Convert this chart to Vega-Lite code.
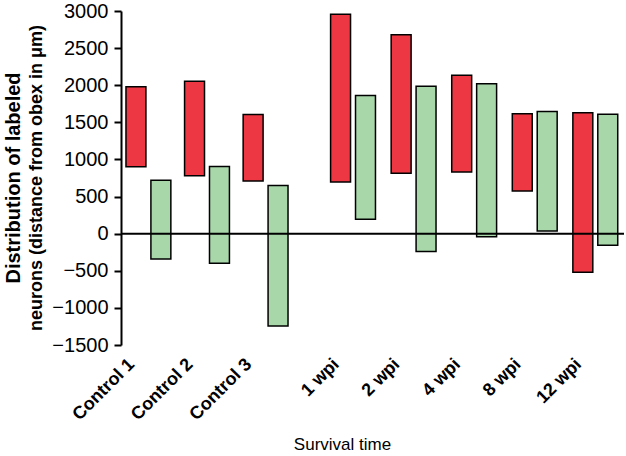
{
  "$schema": "https://vega.github.io/schema/vega-lite/v6.json",
  "background": "white",
  "padding": {"left": 3, "top": 1, "right": 0, "bottom": 0},
  "bounds": "flush",
  "spacing": 0,
  "config": {
    "view": {"stroke": null},
    "font": "Liberation Sans",
    "concat": {"spacing": 0}
  },
  "data": {
    "values": [
      {"group": "Control 1", "set": "Control", "series": "A", "low": 900, "high": 1980},
      {"group": "Control 1", "set": "Control", "series": "B", "low": -340, "high": 720},
      {"group": "Control 2", "set": "Control", "series": "A", "low": 780, "high": 2055},
      {"group": "Control 2", "set": "Control", "series": "B", "low": -400, "high": 905},
      {"group": "Control 3", "set": "Control", "series": "A", "low": 710, "high": 1605},
      {"group": "Control 3", "set": "Control", "series": "B", "low": -1245, "high": 650},
      {"group": "1 wpi", "set": "Injury", "series": "A", "low": 695, "high": 2955},
      {"group": "1 wpi", "set": "Injury", "series": "B", "low": 195, "high": 1860},
      {"group": "2 wpi", "set": "Injury", "series": "A", "low": 815, "high": 2680},
      {"group": "2 wpi", "set": "Injury", "series": "B", "low": -240, "high": 1985},
      {"group": "4 wpi", "set": "Injury", "series": "A", "low": 830, "high": 2135},
      {"group": "4 wpi", "set": "Injury", "series": "B", "low": -40, "high": 2020},
      {"group": "8 wpi", "set": "Injury", "series": "A", "low": 575, "high": 1615},
      {"group": "8 wpi", "set": "Injury", "series": "B", "low": 35, "high": 1645},
      {"group": "12 wpi", "set": "Injury", "series": "A", "low": -520, "high": 1630},
      {"group": "12 wpi", "set": "Injury", "series": "B", "low": -155, "high": 1610}
    ]
  },
  "hconcat": [
    {
      "width": 172,
      "height": 334,
      "title": {
        "text": "Distribution of labeled",
        "subtitle": "neurons (distance from obex in μm)",
        "orient": "left",
        "anchor": "middle",
        "fontSize": 20,
        "fontWeight": "bold",
        "color": "black",
        "subtitleFontSize": 18,
        "subtitleFontWeight": "bold",
        "subtitleColor": "black",
        "subtitlePadding": 4,
        "offset": 6
      },
      "layer": [
        {
          "transform": [{"filter": "datum.set === 'Control'"}],
          "mark": {"type": "bar", "stroke": "black", "strokeWidth": 1.5},
          "encoding": {
            "x": {
              "field": "group", "type": "nominal", "sort": null,
              "scale": {"paddingInner": 0.234, "paddingOuter": 0.085},
              "axis": {"title": null, "domain": false, "ticks": false, "labelAngle": -45, "labelAlign": "right", "labelBaseline": "top", "labelFontSize": 18, "labelFontWeight": "bold", "labelColor": "black", "labelPadding": 10, "labelOffset": -23}
            },
            "xOffset": {"field": "series", "type": "nominal", "scale": {"paddingInner": 0.2, "paddingOuter": 0}},
            "y": {
              "field": "low", "type": "quantitative",
              "scale": {"domain": [-1500, 3000], "nice": false, "zero": false},
              "axis": {"title": null, "values": [-1500, -1000, -500, 0, 500, 1000, 1500, 2000, 2500, 3000], "tickCount": 10, "format": "d", "labelOverlap": false, "labelBound": false, "grid": false, "labelFontSize": 20, "labelColor": "black", "domainColor": "black", "domainWidth": 2, "tickColor": "black", "tickWidth": 2, "tickSize": 7, "labelPadding": 6}
            },
            "y2": {"field": "high"},
            "fill": {"field": "series", "type": "nominal", "scale": {"domain": ["A", "B"], "range": ["#ED3843", "#A8D8AA"]}, "legend": null}
          }
        },
        {
          "data": {"values": [{}]},
          "mark": {"type": "rule", "color": "black", "strokeWidth": 2},
          "encoding": {"y": {"datum": 0, "type": "quantitative", "axis": {"title": null, "values": [-1500, -1000, -500, 0, 500, 1000, 1500, 2000, 2500, 3000], "tickCount": 10, "format": "d", "labelOverlap": false, "labelBound": false, "grid": false, "labelFontSize": 20, "labelColor": "black", "domainColor": "black", "domainWidth": 2, "tickColor": "black", "tickWidth": 2, "tickSize": 7, "labelPadding": 6}}}
        }
      ]
    },
    {
      "width": 331,
      "height": 334,
      "layer": [
        {
          "transform": [{"filter": "datum.set === 'Injury'"}],
          "mark": {"type": "bar", "stroke": "black", "strokeWidth": 1.5},
          "encoding": {
            "x": {
              "field": "group", "type": "nominal", "sort": null,
              "scale": {"paddingInner": 0.255, "paddingOuter": 0.36, "align": 0.862},
              "axis": {"title": "Survival time", "titleFontSize": 17, "titleFontWeight": "normal", "titleColor": "black", "titleX": 49, "titleY": 99, "titleAlign": "center", "titleBaseline": "middle", "domain": false, "ticks": false, "labelAngle": -45, "labelAlign": "right", "labelBaseline": "top", "labelFontSize": 18, "labelFontWeight": "bold", "labelColor": "black", "labelPadding": 10, "labelOffset": -23}
            },
            "xOffset": {"field": "series", "type": "nominal", "scale": {"paddingInner": 0.2, "paddingOuter": 0}},
            "y": {
              "field": "low", "type": "quantitative",
              "scale": {"domain": [-1500, 3000], "nice": false, "zero": false},
              "axis": null
            },
            "y2": {"field": "high"},
            "fill": {"field": "series", "type": "nominal", "scale": {"domain": ["A", "B"], "range": ["#ED3843", "#A8D8AA"]}, "legend": null}
          }
        },
        {
          "data": {"values": [{}]},
          "mark": {"type": "rule", "color": "black", "strokeWidth": 2},
          "encoding": {"y": {"datum": 0, "type": "quantitative", "axis": null}}
        }
      ]
    }
  ]
}
